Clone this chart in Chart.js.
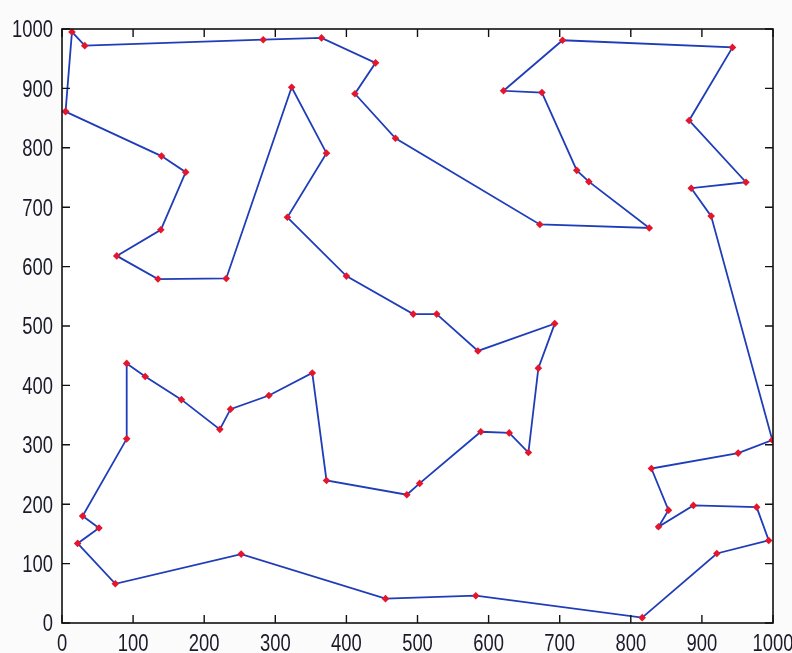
<!DOCTYPE html>
<html>
<head>
<meta charset="utf-8">
<script src="https://cdn.jsdelivr.net/npm/chart.js@4/dist/chart.umd.min.js"></script>
<style>
  html, body { margin: 0; padding: 0; background: #fbfbfb; }
  #wrap { width: 792px; height: 653px; position: relative; }
</style>
</head>
<body>
<div id="wrap"><canvas id="c" width="792" height="653"></canvas></div>
<script>
// Tour through the cities, in visiting order (the loop closes back on the first city)
const tourX = [5, 14, 32, 283, 365, 441, 412, 469, 672, 826, 741, 724, 675, 621, 704, 943, 882, 962, 885, 913,
  999, 951, 829, 853, 839, 888, 977, 994, 921, 816, 582, 455, 252, 75, 22, 52, 29, 91, 91, 117,
  168, 222, 237, 291, 352, 372, 485, 503, 589, 629, 656, 670, 693, 585, 527, 494, 400, 317, 372, 323,
  231, 135, 77, 139, 174, 140];
const tourY = [861, 995, 972, 982, 985, 943, 891, 816, 671, 665, 743, 762, 893, 896, 981, 969, 846, 742, 732, 685,
  308, 286, 260, 190, 162, 198, 195, 139, 117, 9, 46, 41, 116, 66, 134, 160, 180, 310, 437, 415,
  376, 326, 360, 383, 421, 240, 216, 235, 322, 320, 287, 429, 504, 458, 520, 520, 584, 683, 791, 902,
  580, 579, 618, 662, 759, 786];

// Axis ticks, both axes
const tickValues = [0, 100, 200, 300, 400, 500, 600, 700, 800, 900, 1000];
const tickLabels = tickValues.map(v => String(v));

const points = tourX.map((x, i) => ({ x: x, y: tourY[i] }));
points.push({ x: tourX[0], y: tourY[0] });

// Draws a tick label in a narrow (horizontally condensed) face
function narrowText(ctx, text, x, y, align) {
  const squeeze = 0.8;
  ctx.save();
  ctx.translate(x, y);
  ctx.scale(squeeze, 1);
  ctx.textAlign = align;
  ctx.fillText(text, 0, 0);
  ctx.restore();
}

// Box around the plot with inward tick marks on all four sides, plus tick labels
const boxTicks = {
  id: 'boxTicks',
  beforeDraw(chart) {
    const { ctx, chartArea: a } = chart;
    ctx.save();
    ctx.fillStyle = '#ffffff';
    ctx.fillRect(a.left, a.top, a.right - a.left, a.bottom - a.top);
    ctx.restore();
  },
  afterDatasetsDraw(chart) {
    const { ctx, chartArea: a, scales } = chart;
    const len = 8;
    ctx.save();
    ctx.strokeStyle = '#111';
    ctx.lineWidth = 1.6;
    ctx.strokeRect(a.left, a.top, a.right - a.left, a.bottom - a.top);
    ctx.lineWidth = 1.4;
    ctx.beginPath();
    tickValues.forEach(v => {
      const px = scales.x.getPixelForValue(v);
      ctx.moveTo(px, a.bottom); ctx.lineTo(px, a.bottom - len);
      ctx.moveTo(px, a.top); ctx.lineTo(px, a.top + len);
      const py = scales.y.getPixelForValue(v);
      ctx.moveTo(a.left, py); ctx.lineTo(a.left + len, py);
      ctx.moveTo(a.right, py); ctx.lineTo(a.right - len, py);
    });
    ctx.stroke();

    ctx.fillStyle = '#1a1a2a';
    ctx.font = '23px "Liberation Sans", Arial, sans-serif';
    ctx.textBaseline = 'alphabetic';
    tickValues.forEach((v, i) => {
      const px = scales.x.getPixelForValue(v);
      narrowText(ctx, tickLabels[i], px, a.bottom + 28, 'center');
      const py = scales.y.getPixelForValue(v);
      narrowText(ctx, tickLabels[i], a.left - 9, py + 8.3, 'right');
    });
    ctx.restore();
  }
};

new Chart(document.getElementById('c'), {
  type: 'scatter',
  data: {
    datasets: [{
      data: points,
      showLine: true,
      borderColor: '#1f3db8',
      borderWidth: 1.8,
      pointStyle: 'rectRot',
      pointRadius: 3.8,
      pointBackgroundColor: '#e3162c',
      pointBorderColor: '#e3162c',
      pointBorderWidth: 0,
      tension: 0
    }]
  },
  options: {
    responsive: false,
    animation: false,
    events: [],
    layout: { padding: { left: 0, top: 29, right: 19, bottom: 0 } },
    plugins: { legend: { display: false }, tooltip: { enabled: false } },
    scales: {
      x: {
        type: 'linear', min: 0, max: 1000,
        afterBuildTicks: s => { s.ticks = tickValues.map(v => ({ value: v })); },
        afterFit: s => { s.height = 30; },
        grid: { display: false, drawTicks: false },
        border: { display: false },
        ticks: { display: false }
      },
      y: {
        type: 'linear', min: 0, max: 1000,
        afterBuildTicks: s => { s.ticks = tickValues.map(v => ({ value: v })); },
        afterFit: s => { s.width = 62; },
        grid: { display: false, drawTicks: false },
        border: { display: false },
        ticks: { display: false }
      }
    }
  },
  plugins: [boxTicks]
});
</script>
</body>
</html>
